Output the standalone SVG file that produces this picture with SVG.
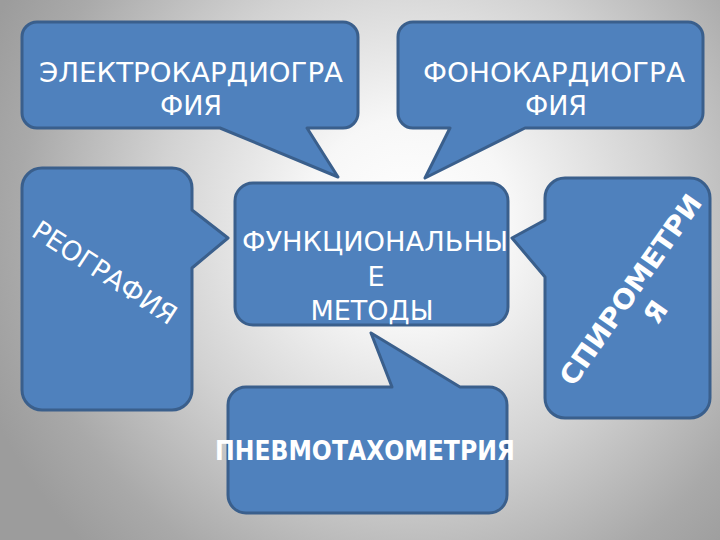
<svg xmlns="http://www.w3.org/2000/svg" width="720" height="540" viewBox="0 0 720 540">
  <defs>
    <radialGradient id="bg" gradientUnits="userSpaceOnUse" cx="410" cy="220" r="460">
      <stop offset="0" stop-color="#ffffff"/>
      <stop offset="0.22" stop-color="#f7f7f7"/>
      <stop offset="0.55" stop-color="#d2d2d2"/>
      <stop offset="0.85" stop-color="#a9a9a9"/>
      <stop offset="1" stop-color="#9c9c9c"/>
    </radialGradient>
    <style>
      .shape { fill: #4F81BD; stroke: #3A5F8C; stroke-width: 3; stroke-linejoin: round; }
      .t { font-family: "DejaVu Sans", "Liberation Sans", sans-serif; font-size: 27px; fill: #ffffff; text-anchor: middle; }
      .b { font-weight: bold; }
    </style>
  </defs>
  <rect x="0" y="0" width="720" height="540" fill="url(#bg)"/>

  <g id="connectors"></g>

  <g id="node-ekg">
    <path class="shape" d="M37,22 H343 A15,15 0 0 1 358,37 V113 A15,15 0 0 1 343,128 H307 L338,177 L220,128 H37 A15,15 0 0 1 22,113 V37 A15,15 0 0 1 37,22 Z"/>
    <text class="t" x="191" y="82" textLength="304" lengthAdjust="spacingAndGlyphs">ЭЛЕКТРОКАРДИОГРА</text>
    <text class="t" x="191" y="115">ФИЯ</text>
  </g>

  <g id="node-fkg">
    <path class="shape" d="M413,22 H688 A15,15 0 0 1 703,37 V113 A15,15 0 0 1 688,128 H525 L425,178 L450,128 H413 A15,15 0 0 1 398,113 V37 A15,15 0 0 1 413,22 Z"/>
    <text class="t" x="554" y="82" textLength="262" lengthAdjust="spacingAndGlyphs">ФОНОКАРДИОГРА</text>
    <text class="t" x="556" y="115">ФИЯ</text>
  </g>

  <g id="node-reo">
    <path class="shape" d="M42,168 H172 A20,20 0 0 1 192,188 V210 L228,238 L192,268 V390 A20,20 0 0 1 172,410 H42 A20,20 0 0 1 22,390 V188 A20,20 0 0 1 42,168 Z"/>
    <g transform="translate(105,272) rotate(33)">
      <text class="t" x="0" y="10" textLength="166" lengthAdjust="spacingAndGlyphs">РЕОГРАФИЯ</text>
    </g>
  </g>

  <g id="node-spiro">
    <path class="shape" d="M565,178 H690 A20,20 0 0 1 710,198 V398 A20,20 0 0 1 690,418 H565 A20,20 0 0 1 545,398 V277 L512,238 L545,220 V198 A20,20 0 0 1 565,178 Z"/>
    <g transform="translate(631,290) rotate(-55)">
      <text class="t b" x="0" y="9" textLength="226" lengthAdjust="spacingAndGlyphs">СПИРОМЕТРИ</text>
      <text class="t b" x="-4" y="42">Я</text>
    </g>
  </g>

  <g id="node-pnevmo">
    <path class="shape" d="M246,387 H392 L371,333 L460,387 H489 A18,18 0 0 1 507,405 V495 A18,18 0 0 1 489,513 H246 A18,18 0 0 1 228,495 V405 A18,18 0 0 1 246,387 Z"/>
    <text class="t b" x="365" y="460" font-size="23" textLength="300" lengthAdjust="spacingAndGlyphs">ПНЕВМОТАХОМЕТРИЯ</text>
  </g>

  <g id="node-center">
    <path class="shape" d="M253,183 H490 A18,18 0 0 1 508,201 V307 A18,18 0 0 1 490,325 H253 A18,18 0 0 1 235,307 V201 A18,18 0 0 1 253,183 Z"/>
    <text class="t" x="375" y="251" textLength="266" lengthAdjust="spacingAndGlyphs">ФУНКЦИОНАЛЬНЫ</text>
    <text class="t" x="376" y="286">Е</text>
    <text class="t" x="372" y="320">МЕТОДЫ</text>
  </g>
</svg>
